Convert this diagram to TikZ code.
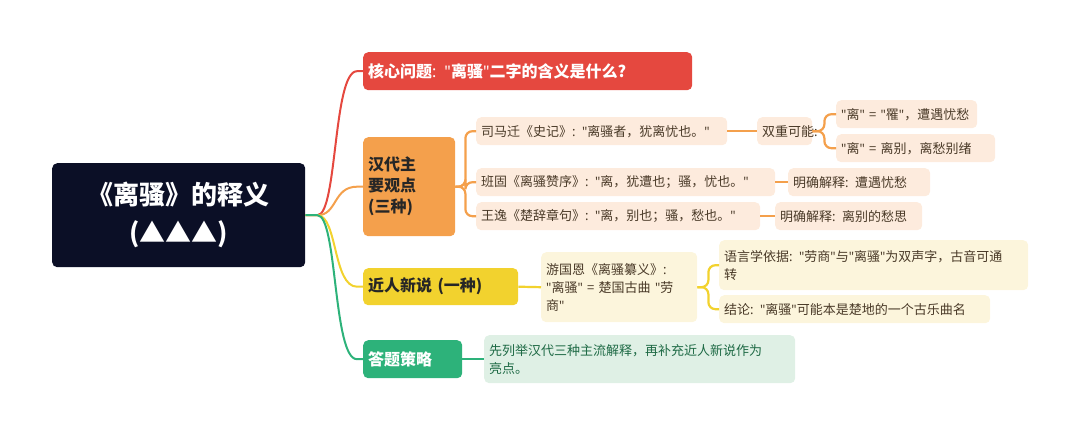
\documentclass[tikz,border=0pt]{standalone}
\usepackage{fontspec}
\usetikzlibrary{calc}
\setmainfont{Noto Sans CJK SC}
\newfontfamily\lat{Noto Sans}
\newcommand{\qq}{{\lat"}}
\newcommand{\cl}{{\lat:}}
\definecolor{navy}{HTML}{0B0F26}
\definecolor{cred}{HTML}{E5483F}
\definecolor{corg}{HTML}{F4A04C}
\definecolor{cyel}{HTML}{F2D22E}
\definecolor{cgrn}{HTML}{2DB27A}
\definecolor{lorg}{HTML}{FDEBDD}
\definecolor{lyel}{HTML}{FCF5DC}
\definecolor{lgrn}{HTML}{DFF0E5}
\definecolor{ltxt}{HTML}{4A3A28}
\definecolor{gtxt}{HTML}{1E6A45}
\tikzset{
 bx/.style n args={3}{anchor=north west,rounded corners=5pt,inner xsep=5pt,inner ysep=0pt,
   minimum width=#1,text width=#1,minimum height=#2,fill=#3,align=left},
 leaf/.style={font=\fontsize{13}{18}\selectfont,text=ltxt},
 main/.style={font=\fontsize{16}{21}\selectfont\bfseries},
 lnk/.style={line width=2.2pt,rounded corners=7pt},
}
\begin{document}
\begin{tikzpicture}[x=1pt,y=-1pt]
\useasboundingbox (0,0) rectangle (1080,436);
\node[bx={243pt}{104pt}{navy},align=center,text=white,font=\fontsize{26}{38}\selectfont\bfseries] (root) at (52,163) {《离骚》的释义\\(▲▲▲)};
\node[bx={319pt}{38pt}{cred},main,text=white] (b1) at (363,52) {核心问题\cl{} \qq{}离骚\qq{}二字的含义是什么?};
\node[bx={82pt}{99pt}{corg},main,text=black!85] (b2) at (363,137) {汉代主\\要观点\\(三种)};
\node[bx={145pt}{37pt}{cyel},main,text=black!85] (b3) at (363,268) {近人新说 (一种)};
\node[bx={89pt}{38pt}{cgrn},main,text=white] (b4) at (363,340) {答题策略};
\node[bx={241pt}{28pt}{lorg},leaf] (l1) at (476,117) {司马迁《史记》\cl{} \qq{}离骚者，犹离忧也。\qq};
\node[bx={45pt}{28pt}{lorg},leaf] (d) at (757,117) {双重可能\cl};
\node[bx={131pt}{28pt}{lorg},leaf] (d1) at (836,100) {\qq{}离\qq{} = \qq{}罹\qq{}，遭遇忧愁};
\node[bx={149pt}{28pt}{lorg},leaf] (d2) at (836,134) {\qq{}离\qq{} = 离别，离愁别绪};
\node[bx={289pt}{28pt}{lorg},leaf] (l2) at (476,168) {班固《离骚赞序》\cl{} \qq{}离，犹遭也；骚，忧也。\qq};
\node[bx={132pt}{28pt}{lorg},leaf] (e2) at (788,168) {明确解释\cl{} 遭遇忧愁};
\node[bx={274pt}{28pt}{lorg},leaf] (l3) at (476,202) {王逸《楚辞章句》\cl{} \qq{}离，别也；骚，愁也。\qq};
\node[bx={137pt}{28pt}{lorg},leaf] (e3) at (775,202) {明确解释\cl{} 离别的愁思};
\node[bx={146pt}{70pt}{lyel},leaf] (y1) at (541,252) {游国恩《离骚纂义》\cl\\\qq{}离骚\qq{} = 楚国古曲 \qq{}劳\\商\qq};
\node[bx={299pt}{50pt}{lyel},leaf] (y2) at (719,240) {语言学依据\cl{} \qq{}劳商\qq{}与\qq{}离骚\qq{}为双声字，古音可通\\转};
\node[bx={261pt}{28pt}{lyel},leaf] (y3) at (719,295) {结论\cl{} \qq{}离骚\qq{}可能本是楚地的一个古乐曲名};
\node[bx={301pt}{48pt}{lgrn},leaf,text=gtxt] (g1) at (484,335) {先列举汉代三种主流解释，再补充近人新说作为\\亮点。};
\coordinate (r) at (root.east);
\foreach \b/\c in {b1/cred,b2/corg,b3/cyel,b4/cgrn}
  \draw[line width=2pt,\c] (r) -- ++(12,0) .. controls ++(20,0) and ($(\b.west)+(-30,0)$) .. ($(\b.west)+(-6,0)$) -- (\b.west);
\foreach \a/\b in {b2/l1,b2/l2,b2/l3}
  \draw[lnk,corg] (\a.east) -- ++(10,0) |- (\b.west);
\draw[lnk,corg] (l1.east) -- (d.west);
\draw[lnk,corg] (l2.east) -- (e2.west);
\draw[lnk,corg] (l3.east) -- (e3.west);
\foreach \b in {d1,d2} \draw[lnk,corg] (d.east) -- ++(12,0) |- (\b.west);
\draw[lnk,cyel] (b3.east) -- (y1.west);
\foreach \b in {y2,y3} \draw[lnk,cyel] (y1.east) -- ++(11,0) |- (\b.west);
\draw[lnk,cgrn] (b4.east) -- (g1.west);
\end{tikzpicture}
\end{document}
